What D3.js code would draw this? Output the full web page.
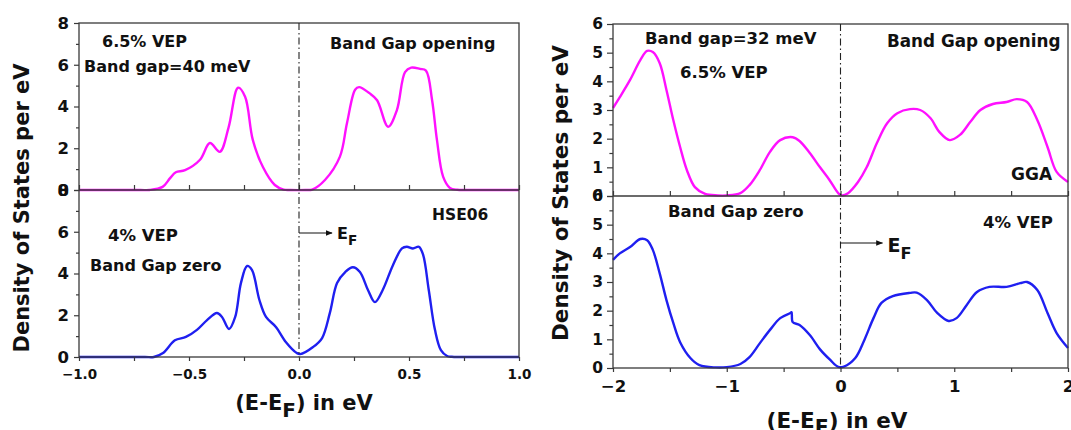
<!DOCTYPE html>
<html>
<head>
<meta charset="utf-8">
<script src="https://cdn.jsdelivr.net/npm/d3@7"></script>
<style>
  body { margin: 0; background: #fff; }
  svg text { font-family: "DejaVu Sans", Verdana, sans-serif; font-weight: bold; fill: #111; }
</style>
</head>
<body>
<div id="graph"></div>
<script>
'use strict';

// ---- data ----
// HSE06, 6.5% VEP (band gap opening)
const hseGapE = [-1.0, -0.72, -0.68, -0.62, -0.586, -0.56, -0.518, -0.45, -0.405, -0.36, -0.32, -0.277, -0.245, -0.21, -0.164, -0.11, -0.07, -0.04,
  0.03, 0.06, 0.118, 0.186, 0.218, 0.255, 0.273, 0.32, 0.355, 0.405, 0.445, 0.482, 0.51, 0.55, 0.577, 0.605, 0.627, 0.655, 0.686, 0.72, 0.76, 1.0];
const hseGapDos = [0, 0, 0, 0.15, 0.57, 0.85, 0.95, 1.45, 2.25, 1.83, 3.0, 4.9, 4.47, 2.4, 1.1, 0.24, 0.02, 0,
  0, 0.02, 0.48, 1.6, 3.2, 4.8, 4.93, 4.64, 4.3, 3.03, 3.83, 5.65, 5.86, 5.8, 5.72, 4.3, 2.4, 0.64, 0.1, 0.01, 0, 0];
// HSE06, 4% VEP (band gap zero)
const hseZeroE = [-1.0, -0.7, -0.66, -0.618, -0.564, -0.514, -0.464, -0.418, -0.373, -0.35, -0.318, -0.29, -0.264, -0.236, -0.214, -0.18, -0.15, -0.105, -0.06, -0.01,
  0.005, 0.064, 0.105, 0.14, 0.173, 0.21, 0.245, 0.277, 0.314, 0.345, 0.38, 0.427, 0.468, 0.49, 0.518, 0.545, 0.564, 0.59, 0.618, 0.645, 0.673, 0.695, 0.73, 1.0];
const hseZeroDos = [0, 0, 0, 0.19, 0.8, 0.96, 1.3, 1.77, 2.11, 1.92, 1.34, 1.92, 3.54, 4.36, 4.17, 2.73, 1.92, 1.44, 0.72, 0.19,
  0.14, 0.48, 0.91, 2.1, 3.54, 4.07, 4.3, 4.07, 3.2, 2.63, 3.2, 4.4, 5.2, 5.28, 5.2, 5.28, 4.9, 3.2, 1.3, 0.33, 0.05, 0.01, 0, 0];
// GGA, 6.5% VEP
const ggaGapE = [-2.0, -1.94, -1.85, -1.76, -1.70, -1.65, -1.59, -1.53, -1.47, -1.41, -1.35, -1.28, -1.19, -1.08, -1.0, -0.88, -0.80, -0.71, -0.62, -0.53, -0.42, -0.36, -0.27, -0.18, -0.097, -0.02,
  0.01, 0.066, 0.154, 0.23, 0.32, 0.41, 0.50, 0.61, 0.70, 0.79, 0.87, 0.96, 1.05, 1.14, 1.23, 1.34, 1.46, 1.55, 1.64, 1.73, 1.82, 1.90, 2.0];
const ggaGapDos = [3.07, 3.45, 4.05, 4.74, 5.06, 5.02, 4.64, 3.7, 2.65, 1.71, 0.9, 0.31, 0.07, 0.02, 0.02, 0.1, 0.38, 0.9, 1.54, 1.95, 2.05, 1.92, 1.5, 1.0, 0.56, 0.1,
  0.02, 0.1, 0.49, 1.0, 1.85, 2.54, 2.89, 3.03, 3.0, 2.72, 2.23, 1.95, 2.13, 2.58, 3.0, 3.21, 3.28, 3.38, 3.28, 2.65, 1.71, 0.84, 0.49];
// GGA, 4% VEP
const ggaZeroE = [-2.0, -1.94, -1.85, -1.76, -1.70, -1.65, -1.59, -1.53, -1.47, -1.41, -1.32, -1.24, -1.1, -1.0, -0.88, -0.80, -0.71, -0.62, -0.53, -0.44, -0.43, -0.42, -0.36, -0.27, -0.18, -0.09, -0.02,
  0.03, 0.13, 0.21, 0.29, 0.36, 0.46, 0.61, 0.67, 0.76, 0.85, 0.95, 1.02, 1.11, 1.2, 1.31, 1.46, 1.58, 1.64, 1.73, 1.82, 1.90, 2.0];
const ggaZeroDos = [3.77, 4.0, 4.22, 4.5, 4.46, 4.12, 3.31, 2.37, 1.57, 0.9, 0.35, 0.1, 0.02, 0.03, 0.14, 0.38, 0.86, 1.33, 1.74, 1.92, 1.95, 1.6, 1.5, 1.15, 0.65, 0.28, 0.04,
  0.05, 0.35, 0.98, 1.74, 2.27, 2.51, 2.62, 2.63, 2.37, 1.92, 1.64, 1.74, 2.2, 2.65, 2.83, 2.83, 2.96, 3.0, 2.72, 1.92, 1.22, 0.7];

// ---- ticks ----
const hseXMajor = [-1.0, -0.5, 0.0, 0.5, 1.0];
const hseXMinor = [-0.75, -0.25, 0.25, 0.75];
const hseYMajor = [0, 2, 4, 6, 8];
const hseYMinor = [1, 3, 5, 7];
const ggaXMajor = [-2, -1, 0, 1, 2];
const ggaXMinor = [-1.5, -0.5, 0.5, 1.5];
const ggaYMajor = [0, 1, 2, 3, 4, 5, 6];
const ggaYMinor = [0.5, 1.5, 2.5, 3.5, 4.5, 5.5];

const magenta = '#ff10ff';
const blue = '#1f1ff0';
const frameColor = '#3a3a3a';

let svgContainer = d3.select('#graph')
  .append('svg')
  .attr('width', 1071)
  .attr('height', 430);

// arrow head for the E_F markers
svgContainer.append('defs').append('marker')
  .attr('id', 'arrow')
  .attr('viewBox', '0 0 10 10')
  .attr('refX', 9).attr('refY', 5)
  .attr('markerWidth', 7).attr('markerHeight', 7)
  .attr('markerUnits', 'userSpaceOnUse')
  .attr('orient', 'auto')
  .append('path')
  .attr('d', 'M0,1 L10,5 L0,9 Z')
  .attr('fill', '#111');

// draw a panel (two stacked plots sharing x)
function drawPanel(p) {
  let x = d3.scaleLinear().domain(p.xDomain).range([p.left, p.right]);
  let yTop = d3.scaleLinear().domain(p.yDomain).range([p.mid, p.top]);
  let yBot = d3.scaleLinear().domain(p.yDomain).range([p.bottom, p.mid]);

  let g = svgContainer.append('g');

  // curves
  let plots = [
    { e: p.topE, dos: p.topDos, y: yTop, color: magenta },
    { e: p.botE, dos: p.botDos, y: yBot, color: blue }
  ];
  plots.forEach((s) => {
    let line = d3.line()
      .x((d, i) => x(s.e[i]))
      .y((d) => s.y(d))
      .curve(d3.curveCatmullRom.alpha(0.5));
    g.append('path')
      .attr('d', line(s.dos))
      .attr('fill', 'none')
      .attr('stroke', s.color)
      .attr('stroke-width', 2.4)
      .attr('stroke-linejoin', 'round');
  });

  // y axes (major + minor) for both plots
  [yTop, yBot].forEach((ys) => {
    let ax = g.append('g')
      .attr('transform', `translate(${p.left},0)`)
      .call(d3.axisLeft(ys).tickValues(p.yMajor).tickSize(p.yTick).tickSizeOuter(0)
        .tickPadding(p.yPad).tickFormat(d3.format('d')));
    styleAxis(ax, p.yFont);
    let mn = g.append('g')
      .attr('transform', `translate(${p.left},0)`)
      .call(d3.axisLeft(ys).tickValues(p.yMinor).tickSize(p.yTick * 0.6).tickSizeOuter(0).tickFormat(''));
    styleAxis(mn, p.yFont);
  });

  // x ticks on the middle line (pointing into the upper plot)
  let allX = p.xMajor.concat(p.xMinor);
  let mid = g.append('g')
    .attr('transform', `translate(0,${p.mid})`)
    .call(d3.axisTop(x).tickValues(allX).tickSize(5).tickSizeOuter(0).tickFormat(''));
  styleAxis(mid, 10);

  // bottom x axis
  let bx = g.append('g')
    .attr('transform', `translate(0,${p.bottom})`)
    .call(d3.axisBottom(x).tickValues(p.xMajor).tickSize(4).tickSizeOuter(0)
      .tickPadding(p.xPad).tickFormat(p.xFormat));
  styleAxis(bx, p.xFont);
  let bxm = g.append('g')
    .attr('transform', `translate(0,${p.bottom})`)
    .call(d3.axisBottom(x).tickValues(p.xMinor).tickSize(4).tickSizeOuter(0).tickFormat(''));
  styleAxis(bxm, 10);

  // frame and middle line
  g.append('rect')
    .attr('x', p.left).attr('y', p.top)
    .attr('width', p.right - p.left).attr('height', p.bottom - p.top)
    .attr('fill', 'none').attr('stroke', frameColor).attr('stroke-width', 1.3);
  g.append('line')
    .attr('x1', p.left).attr('x2', p.right)
    .attr('y1', p.mid).attr('y2', p.mid)
    .attr('stroke', frameColor).attr('stroke-width', 1.3);

  // Fermi level dash-dot line
  g.append('line')
    .attr('x1', x(0)).attr('x2', x(0))
    .attr('y1', p.top).attr('y2', p.bottom)
    .attr('stroke', '#222').attr('stroke-width', 1.1)
    .attr('stroke-dasharray', '7,3,1.5,3');

  // E_F arrow
  g.append('line')
    .attr('x1', x(0)).attr('x2', x(0) + p.arrowLen)
    .attr('y1', p.arrowY).attr('y2', p.arrowY)
    .attr('stroke', '#111').attr('stroke-width', 1.1)
    .attr('marker-end', 'url(#arrow)');
  let ef = g.append('text')
    .attr('x', x(0) + p.arrowLen + 5)
    .attr('y', p.efY)
    .style('font-size', p.efSize + 'px');
  ef.append('tspan').text('E');
  ef.append('tspan').attr('dy', p.efSize * 0.35).style('font-size', (p.efSize * 0.85) + 'px').text('F');

  // x title
  let xt = g.append('text')
    .attr('x', p.xTitleX).attr('y', p.xTitleY)
    .attr('text-anchor', 'middle')
    .style('font-size', p.titleSize + 'px');
  xt.append('tspan').text('(E-E');
  xt.append('tspan').attr('dy', 7).style('font-size', (p.titleSize * 0.95) + 'px').text('F');
  xt.append('tspan').attr('dy', -7).text(') in eV');

  // y title
  g.append('text')
    .attr('transform', `translate(${p.yTitleX},${p.yTitleY})rotate(-90)`)
    .attr('text-anchor', 'middle')
    .style('font-size', p.titleSize + 'px')
    .text('Density of States per eV');

  // annotations
  p.notes.forEach((n) => {
    g.append('text')
      .attr('x', n[1]).attr('y', n[2])
      .style('font-size', n[3] + 'px')
      .text(n[0]);
  });
}

function styleAxis(ax, fontSize) {
  ax.select('.domain').remove();
  ax.selectAll('.tick line').attr('stroke', frameColor).attr('stroke-width', 1.2);
  ax.selectAll('.tick text')
    .attr('fill', '#111')
    .style('font-family', '"DejaVu Sans", Verdana, sans-serif')
    .style('font-weight', 'bold')
    .style('font-size', fontSize + 'px');
}

// left panel: HSE06
drawPanel({
  xDomain: [-1, 1], yDomain: [0, 8],
  left: 79, right: 519, top: 23, mid: 190, bottom: 357,
  topE: hseGapE, topDos: hseGapDos, botE: hseZeroE, botDos: hseZeroDos,
  xMajor: hseXMajor, xMinor: hseXMinor, yMajor: hseYMajor, yMinor: hseYMinor,
  xFormat: d3.format('.1f'), xFont: 13.5, xPad: 8,
  yFont: 16.5, yTick: 5, yPad: 5,
  arrowLen: 33, arrowY: 233, efY: 239, efSize: 16,
  xTitleX: 304, xTitleY: 410, yTitleX: 29, yTitleY: 208, titleSize: 21,
  notes: [
    ['6.5% VEP', 102, 47, 16],
    ['Band gap=40 meV', 84, 72, 16],
    ['Band Gap opening', 330, 49, 16],
    ['4% VEP', 108, 241, 16.5],
    ['Band Gap zero', 90, 271, 16],
    ['HSE06', 432, 220, 15.5]
  ]
});

// right panel: GGA
drawPanel({
  xDomain: [-2, 2], yDomain: [0, 6],
  left: 613, right: 1068, top: 24, mid: 196, bottom: 368,
  topE: ggaGapE, topDos: ggaGapDos, botE: ggaZeroE, botDos: ggaZeroDos,
  xMajor: ggaXMajor, xMinor: ggaXMinor, yMajor: ggaYMajor, yMinor: ggaYMinor,
  xFormat: d3.format('d'), xFont: 16.5, xPad: 8,
  yFont: 15.5, yTick: 6, yPad: 4,
  arrowLen: 42, arrowY: 243, efY: 252, efSize: 19,
  xTitleX: 837, xTitleY: 428, yTitleX: 568, yTitleY: 193, titleSize: 21.5,
  notes: [
    ['Band gap=32 meV', 645, 44, 16.5],
    ['6.5% VEP', 680, 78, 16.5],
    ['Band Gap opening', 887, 47, 16.8],
    ['GGA', 1011, 180, 17],
    ['Band Gap zero', 668, 217, 16.5],
    ['4% VEP', 983, 228, 16.5]
  ]
});
</script>
</body>
</html>
